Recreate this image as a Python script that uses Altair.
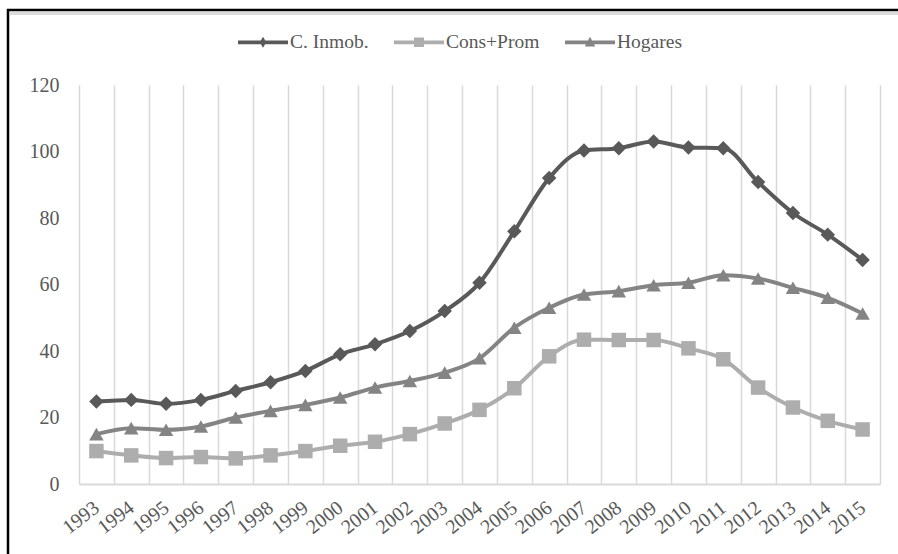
import altair as alt
import pandas as pd

years = ["1993", "1994", "1995", "1996", "1997", "1998", "1999", "2000", "2001", "2002",
         "2003", "2004", "2005", "2006", "2007", "2008", "2009", "2010", "2011", "2012",
         "2013", "2014", "2015"]
series_names = ["C. Inmob.", "Cons+Prom", "Hogares"]
c_inmob = [24.8, 25.3, 24.1, 25.3, 28.0, 30.6, 34.0, 39.0, 42.0, 46.0, 52.0, 60.5,
           76.0, 92.0, 100.3, 101.0, 103.0, 101.2, 101.0, 90.8, 81.5, 75.0, 67.4]
cons_prom = [9.9, 8.6, 7.8, 8.1, 7.7, 8.6, 9.9, 11.5, 12.7, 15.0, 18.2, 22.3,
             28.8, 38.4, 43.4, 43.3, 43.3, 40.8, 37.5, 29.0, 23.0, 19.0, 16.4]
hogares = [15.0, 16.8, 16.3, 17.3, 20.0, 22.0, 23.8, 26.0, 29.0, 31.0, 33.5, 37.8,
           47.0, 53.0, 57.0, 58.0, 59.8, 60.5, 62.8, 61.8, 59.0, 56.0, 51.3]
y_ticks = [0, 20, 40, 60, 80, 100, 120]

# styling
colors = ["#595959", "#adadad", "#848484"]
shapes = ["diamond", "square", "triangle-up"]
BAR = "M-1,-0.075L1,-0.075L1,0.075L-1,0.075Z"
legend_paths = {
    "C. Inmob.": BAR + "M0,-0.22L0.13,0L0,0.22L-0.13,0Z",
    "Cons+Prom": BAR + "M-0.2,-0.19L0.2,-0.19L0.2,0.19L-0.2,0.19Z",
    "Hogares": BAR + "M0,-0.22L0.21,0.17L-0.21,0.17Z",
}
FONT = "Liberation Serif"
TXT = "#595959"

rows = []
for name, vals in zip(series_names, [c_inmob, cons_prom, hogares]):
    for yr, v in zip(years, vals):
        rows.append({"year": yr, "series": name, "value": v})
df = pd.DataFrame(rows)

shape_expr = (
    f"datum.value === '{series_names[0]}' ? '{legend_paths[series_names[0]]}' : "
    f"datum.value === '{series_names[1]}' ? '{legend_paths[series_names[1]]}' : "
    f"'{legend_paths[series_names[2]]}'"
)

x_enc = alt.X(
    "year:O", sort=years,
    scale=alt.Scale(type="band", paddingInner=0, paddingOuter=0),
    axis=alt.Axis(title=None, labelAngle=-38, labelAlign="right", labelBaseline="middle",
                  labelPadding=21, labelFont=FONT, labelFontSize=20, labelColor=TXT,
                  labelOverlap=False, ticks=False, grid=True, tickBand="extent",
                  gridColor="#d9d9d9", gridWidth=1.5, domainColor="#d9d9d9", domainWidth=2),
)
y_enc = alt.Y(
    "value:Q",
    scale=alt.Scale(domain=[0, 120], nice=False),
    axis=alt.Axis(title=None, values=y_ticks, grid=False, domain=False, ticks=False,
                  labelPadding=20, labelFont=FONT, labelFontSize=20, labelColor=TXT),
)
color_scale = alt.Scale(domain=series_names, range=colors)

legend = alt.Legend(
    title=None, orient="none", legendX=159, legendY=-68, direction="horizontal",
    symbolSize=2500, symbolStrokeWidth=0, symbolType=alt.ExprRef(expr=shape_expr),
    symbolOpacity=1, labelFont=FONT, labelFontSize=19.5,
    labelColor=TXT, labelOffset=2, columnPadding=25, padding=0,
)

base = alt.Chart(df)
lines = base.mark_line(strokeWidth=4, interpolate="monotone").encode(
    x=x_enc, y=y_enc,
    color=alt.Color("series:N", scale=color_scale, legend=legend),
    detail="series:N",
)
points = base.mark_point(filled=True, opacity=1, size=210).encode(
    x=x_enc, y=y_enc,
    color=alt.Color("series:N", scale=color_scale, legend=legend),
    shape=alt.Shape("series:N", scale=alt.Scale(range=shapes), legend=None),
)

frame_df = pd.DataFrame({"k": [0]})
frame = alt.Chart(frame_df).mark_rect(fill="transparent", stroke="#000000", strokeWidth=2.5).encode(
    x=alt.value(-71), x2=alt.value(840), y=alt.value(-75), y2=alt.value(500)
)
shadow = alt.Chart(frame_df).mark_rule(color="#dcdcdc", strokeWidth=3).encode(
    x=alt.value(-69), x2=alt.value(840), y=alt.value(-71.5)
)

chart = alt.layer(shadow, frame, lines, points).properties(
    width=801, height=399,
    autosize=alt.AutoSizeParams(type="none"),
    padding={"left": 79, "top": 85, "right": 18, "bottom": 70},
    background="white",
).configure_view(stroke=None).configure_legend(
    labelFont=FONT, labelFontSize=19.5, labelColor=TXT
)

chart.save("out.html", embed_options={"renderer": "svg", "actions": False})
